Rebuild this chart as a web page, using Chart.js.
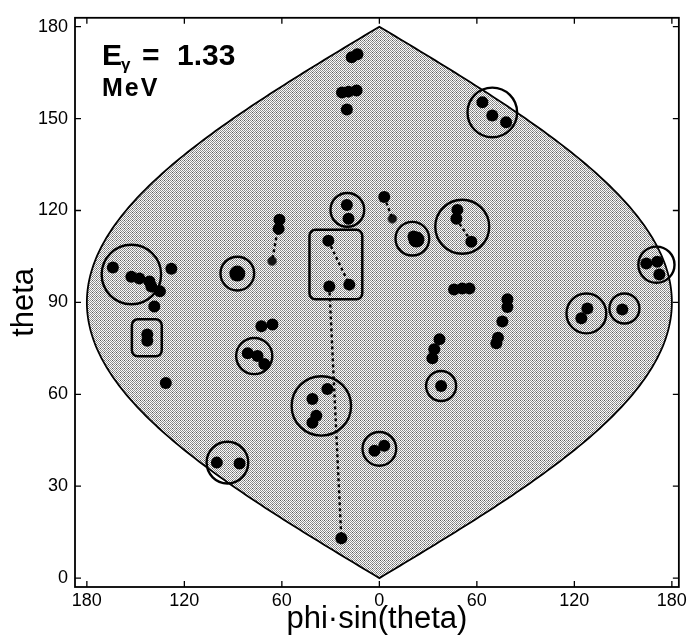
<!DOCTYPE html>
<html>
<head>
<meta charset="utf-8">
<script src="https://cdn.jsdelivr.net/npm/chart.js@4"></script>
<style>
  html, body { margin: 0; padding: 0; background: #fff; }
</style>
</head>
<body>
<canvas id="skyChart" width="690" height="638"></canvas>
<script>
// tick positions (left half is negative phi, labelled by magnitude)
const xTicks = [-180, -120, -60, 0, 60, 120, 180];
const thetaTicks = [0, 30, 60, 90, 120, 150, 180];

// hit points: phi*sin(theta), theta
const dotX = [-17, -13.5, -23, -14, -19, -20, -20, -19, 3, 21,
  48, 47.4, 56.6, 63.4, 69.5, 78, 164.3, 171, 172.3, -61.5, -62,
  -31.4, -30.8, -18.5, -164, -152.6, -147.7, -141.5, -140.3,
  -128, -135, -138.5, -142.8, -142.8, -131.4, -72.6, -65.8,
  -81, -75, -70.8, 46, 51, 55.4, 78.8, 78.8, 75.7, 73, 72,
  37, 33.8, 32.6, 128, 124.3, 149.5, 38, -32, -41.2, -38.8, -41.2,
  -3, 3, -100, -86, -23.4];
const dotTheta = [170, 171, 158.5, 159.2, 158.8, 153, 121.8, 117.3, 124.4, 111.5,
  120.2, 117.3, 109.8, 155.3, 151, 148.8, 102.7, 103.3, 99.1, 117, 114,
  110.1, 95.2, 95.8, 101.4, 98.4, 97.8, 96.8, 95.2,
  101, 93.6, 88.7, 79.5, 77.5, 63.7, 82.2, 82.8,
  73.4, 72.5, 69.9, 94.2, 94.5, 94.5, 91, 88.5, 83.8, 78.5, 76.7,
  78, 74.7, 71.8, 88, 84.8, 87.7, 62.7, 61.7, 58.5, 53, 50.7,
  41.6, 43.2, 37.7, 37.4, 13];

// bright hits
const bigDotX = [-87.4, 22.8];
const bigDotTheta = [99.4, 110.5];

// faint hits
const smallDotX = [8, -66];
const smallDotTheta = [117.3, 103.5];

// cluster circles: centre and cone radius (degrees of theta)
const circleX = [-152.6, -87.4, -77, -93.5, -35.7, -19.7, 20.3, 51, 69.5, 170.5, 127.4, 150.8, 38, 0];
const circleTheta = [99.1, 99.4, 72.5, 37.7, 56.2, 120.2, 110.8, 114.7, 152, 102.3, 86.4, 88, 62.7, 42.2];
const circleCone = [9.7, 5.5, 5.9, 6.8, 9.7, 5.5, 5.5, 8.8, 8.1, 5.9, 6.5, 4.9, 4.9, 5.5];

// dotted tracks between hits
const trackX = [[-61.5, -66], [-31.4, -18.5], [-30.8, -23.4], [3, 8], [47.4, 56.6]];
const trackTheta = [[117, 103.5], [110.1, 95.8], [95.2, 13], [124.4, 117.3], [117.3, 109.8]];

// boxed regions
const boxX = [[-43, -10.5], [-152.3, -133.9]];
const boxTheta = [[91, 113.7], [72.4, 84.5]];

const FONT = "'Liberation Sans', Arial, Helvetica, sans-serif";

function halftone() {
  const c = document.createElement('canvas');
  c.width = 4; c.height = 4;
  const g = c.getContext('2d');
  g.fillStyle = '#fbfbfb';
  g.fillRect(0, 0, 4, 4);
  g.fillStyle = '#8e8e8e';
  [[0, 0], [2, 0], [1, 1], [3, 1], [0, 2], [2, 2], [1, 3], [3, 3]].forEach(p => g.fillRect(p[0], p[1], 1, 1));
  g.fillStyle = '#5a5a5a';
  g.fillRect(0, 0, 1, 1);
  return g.createPattern(c, 'repeat');
}

const skyPlugin = {
  id: 'sky',
  beforeDatasetsDraw(chart) {
    const { ctx, scales: { x, y } } = chart;
    const rad = Math.PI / 180;
    ctx.save();
    ctx.beginPath();
    for (let t = 0; t <= 180; t++) {
      const px = x.getPixelForValue(180 * Math.sin(t * rad));
      const py = y.getPixelForValue(t);
      if (t === 0) ctx.moveTo(px, py); else ctx.lineTo(px, py);
    }
    for (let t = 180; t >= 0; t--) {
      ctx.lineTo(x.getPixelForValue(-180 * Math.sin(t * rad)), y.getPixelForValue(t));
    }
    ctx.closePath();
    ctx.fillStyle = halftone();
    ctx.fill();
    ctx.lineWidth = 1.8;
    ctx.strokeStyle = '#000';
    ctx.stroke();

    // boxes
    ctx.lineWidth = 2.5;
    boxX.forEach((bx, i) => {
      const x0 = x.getPixelForValue(bx[0]), x1 = x.getPixelForValue(bx[1]);
      const y0 = y.getPixelForValue(boxTheta[i][1]), y1 = y.getPixelForValue(boxTheta[i][0]);
      ctx.beginPath();
      ctx.roundRect(x0, y0, x1 - x0, y1 - y0, 6);
      ctx.stroke();
    });
    ctx.restore();
  },
  afterDraw(chart) {
    const { ctx, chartArea: a, scales: { x, y } } = chart;
    ctx.save();
    // frame
    ctx.strokeStyle = '#000';
    ctx.lineWidth = 1.8;
    ctx.strokeRect(a.left, a.top, a.right - a.left, a.bottom - a.top);
    // inward ticks on all sides
    ctx.lineWidth = 1.3;
    ctx.beginPath();
    xTicks.forEach(v => {
      const px = x.getPixelForValue(v);
      ctx.moveTo(px, a.bottom); ctx.lineTo(px, a.bottom - 6);
      ctx.moveTo(px, a.top); ctx.lineTo(px, a.top + 6);
    });
    thetaTicks.forEach(v => {
      const py = y.getPixelForValue(v);
      ctx.moveTo(a.left, py); ctx.lineTo(a.left + 6, py);
      ctx.moveTo(a.right, py); ctx.lineTo(a.right - 6, py);
    });
    ctx.stroke();

    // energy label
    ctx.fillStyle = '#000';
    ctx.textBaseline = 'alphabetic';
    ctx.font = 'bold 30px ' + FONT;
    ctx.fillText('E', a.left + 27, a.top + 47);
    ctx.font = 'bold 17px ' + FONT;
    ctx.fillText('γ', a.left + 46, a.top + 52);
    ctx.font = 'bold 30px ' + FONT;
    ctx.fillText('=', a.left + 67, a.top + 47);
    ctx.fillText('1.33', a.left + 102, a.top + 47);
    ctx.font = 'bold 25px ' + FONT;
    ctx.letterSpacing = '2px';
    ctx.fillText('MeV', a.left + 27, a.top + 78);
    ctx.restore();
  }
};

const pts = (xs, ys) => xs.map((v, i) => ({ x: v, y: ys[i] }));

const datasets = [];
trackX.forEach((tx, i) => {
  datasets.push({
    type: 'line',
    data: pts(tx, trackTheta[i]),
    borderColor: '#000',
    borderWidth: 2.4,
    borderDash: [3, 3],
    pointRadius: 0,
    fill: false
  });
});
datasets.push({
  label: 'circles',
  data: pts(circleX, circleTheta),
  pointStyle: 'circle',
  backgroundColor: 'rgba(0,0,0,0)',
  borderColor: '#000',
  borderWidth: 2.4,
  pointRadius: ctx => {
    const y = ctx.chart.scales.y;
    return Math.abs(y.getPixelForValue(0) - y.getPixelForValue(circleCone[ctx.dataIndex]));
  }
});
datasets.push({
  label: 'small hits',
  data: pts(smallDotX, smallDotTheta),
  backgroundColor: '#111',
  borderColor: '#555',
  borderWidth: 1,
  pointRadius: 4.5
});
datasets.push({
  label: 'hits',
  data: pts(dotX, dotTheta),
  backgroundColor: '#000',
  borderWidth: 0,
  pointRadius: 6
});
datasets.push({
  label: 'bright hits',
  data: pts(bigDotX, bigDotTheta),
  backgroundColor: '#000',
  borderWidth: 0,
  pointRadius: 8
});

new Chart(document.getElementById('skyChart').getContext('2d'), {
  type: 'scatter',
  data: { datasets: datasets },
  plugins: [skyPlugin],
  options: {
    responsive: false,
    animation: false,
    events: [],
    layout: { padding: { top: 15, right: 10, left: 0, bottom: 0 } },
    plugins: {
      legend: { display: false },
      tooltip: { enabled: false }
    },
    scales: {
      x: {
        type: 'linear',
        min: -187.3,
        max: 184.3,
        afterBuildTicks: s => { s.ticks = xTicks.map(v => ({ value: v })); },
        afterFit: s => { s.height = 51; },
        grid: { display: false, drawTicks: false },
        border: { display: false },
        ticks: {
          padding: 3,
          maxRotation: 0,
          autoSkip: false,
          color: '#000',
          font: { family: FONT, size: 18 },
          callback: v => String(Math.abs(v))
        },
        title: {
          display: true,
          text: 'phi·sin(theta)',
          color: '#000',
          font: { family: FONT, size: 31 },
          padding: { top: 0, bottom: 0 }
        }
      },
      y: {
        type: 'linear',
        min: -2.9,
        max: 182.9,
        afterBuildTicks: s => { s.ticks = thetaTicks.map(v => ({ value: v })); },
        afterFit: s => { s.width = 75; },
        grid: { display: false, drawTicks: false },
        border: { display: false },
        ticks: {
          padding: 7,
          color: '#000',
          font: { family: FONT, size: 18 }
        },
        title: {
          display: true,
          text: 'theta',
          color: '#000',
          font: { family: FONT, size: 31 },
          padding: { top: 6, bottom: 0 }
        }
      }
    }
  }
});
</script>
</body>
</html>
